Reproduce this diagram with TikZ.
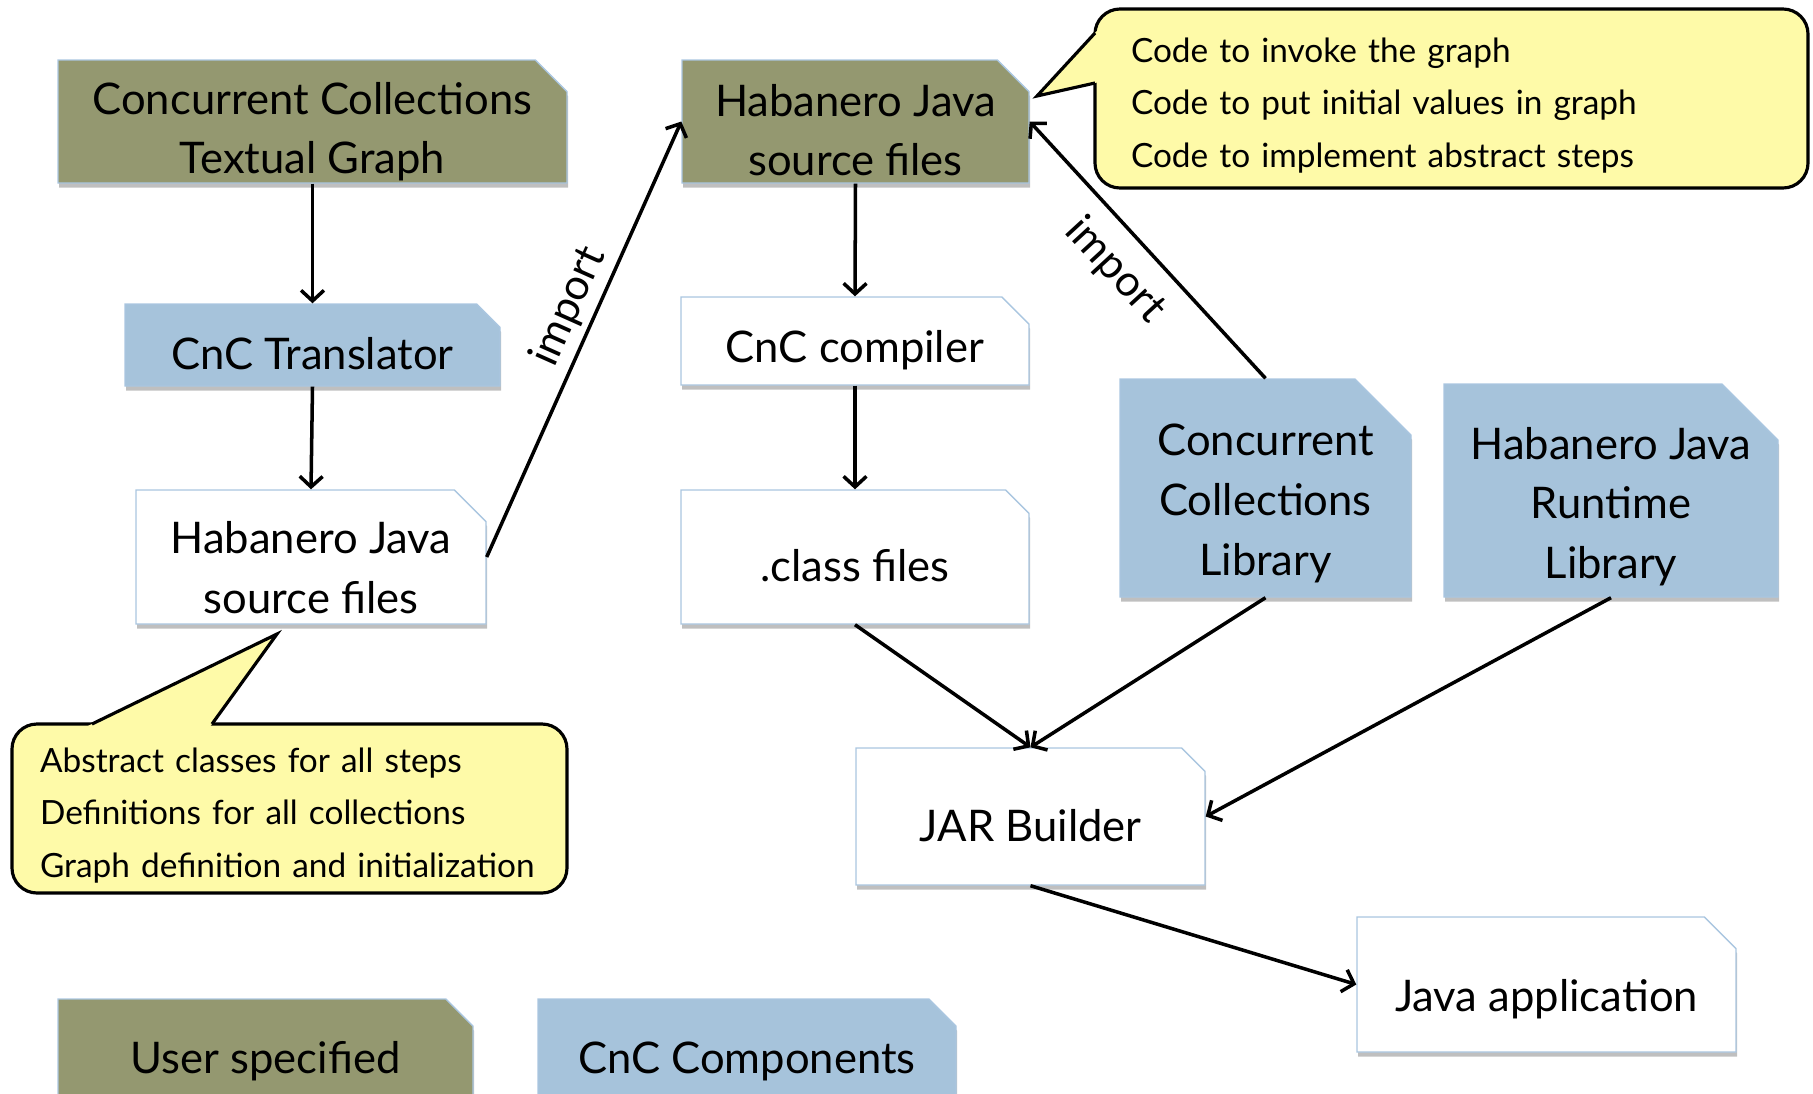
\documentclass[tikz,border=0pt]{standalone}
\usepackage{fontspec}
\setmainfont{Lato}
\usetikzlibrary{shapes.misc,shadows,arrows.meta,calc}

\definecolor{userolive}{RGB}{148,152,112}
\definecolor{cncblue}{RGB}{166,195,219}
\definecolor{edgeblue}{RGB}{170,198,224}
\definecolor{noteyellow}{RGB}{254,250,168}

\newcommand\textdrop[1]{\rule{0pt}{#1}}

\tikzset{
  boxsize/.style 2 args={minimum width=#1*0.02cm, minimum height=#2*0.02cm},
  lower/.style={execute at begin node={\textdrop{#1}}},
  box/.style={chamfered rectangle, chamfered rectangle corners=north east,
    chamfered rectangle xsep=9pt, chamfered rectangle ysep=9pt,
    draw=edgeblue, line width=0.8pt, inner sep=-10pt, align=center,
    font=\fontsize{24.8}{34}\selectfont, lower=28.5pt,
    drop shadow={shadow xshift=0.6pt, shadow yshift=-2.6pt, opacity=0.5}},
  userbox/.style={box, fill=userolive},
  cncbox/.style={box, fill=cncblue},
  filebox/.style={box, fill=white},
  libbox/.style={cncbox, chamfered rectangle xsep=16pt, chamfered rectangle ysep=16pt, lower=0pt},
  note/.style={draw=black, line width=1.8pt, fill=noteyellow, rounded corners=0.5cm,
    inner sep=0pt, align=left, font=\fontsize{19}{30}\selectfont, lower=22pt},
  flow/.style={line width=2pt, -{Straight Barb[length=6pt,width=13pt]}},
  flowback/.style={line width=2pt, {Straight Barb[length=6pt,width=13pt]}-},
  flowlabel/.style={font=\fontsize{24.5}{28}\selectfont}
}

\begin{document}
\begin{tikzpicture}[x=0.02cm, y=-0.02cm]
\useasboundingbox (0,0) rectangle (1813,1093);

% user specified inputs
\node[userbox, boxsize={509}{123}, lower=0pt] (cctg) at (312.5,121.5) {\textdrop{30pt}Concurrent Collections\\Textual Graph};
\node[userbox, boxsize={347}{123}, lower=0pt] (hjsrc) at (855.5,121.5) {\textdrop{28pt}Habanero Java\\source files};

% left column
\node[cncbox, boxsize={375}{82}] (trans) at (312.5,345) {CnC Translator};
\node[filebox, boxsize={350}{134}, lower=0pt] (hjgen) at (311,557) {\textdrop{30pt}Habanero Java\\source files};

% middle column
\node[filebox, boxsize={348}{88}] (comp) at (855,341) {CnC compiler};
\node[filebox, boxsize={348}{134}] (cls) at (855,557) {.class files};

% libraries
\node[libbox, boxsize={291}{218}] (cclib) at (1265.5,488) {\textdrop{35.5pt}Concurrent\\Collections\\Library};
\node[libbox, boxsize={334}{213}] (hjrt) at (1611,490.5) {\textdrop{36.5pt}Habanero Java\\Runtime\\Library};

% build output
\node[filebox, boxsize={349}{137}] (jar) at (1030.5,816.5) {JAR Builder};
\node[filebox, boxsize={379}{135}, lower=35pt] (japp) at (1546.5,984.5) {Java application};

% legend
\node[userbox, boxsize={415}{106}, lower=19pt] (legu) at (265.5,1052) {User specified};
\node[cncbox, boxsize={418}{106}, lower=19pt] (legc) at (747,1052) {CnC Components};

% callouts
\node[note, boxsize={713}{179}, text width=12.82cm] (noteA) at (1451.5,98.5) {Code to invoke the graph\\Code to put initial values in graph\\Code to implement abstract steps};
\coordinate (tipA) at (1037,96);
\coordinate (baseA1) at (1095,33);
\coordinate (baseA2) at (1095,83);
\fill[noteyellow] ($(tipA)!1.08!(baseA1)$) -- (tipA) -- ($(tipA)!1.08!(baseA2)$) -- cycle;
\draw[line width=1.8pt, line join=miter] (baseA1) -- (tipA) -- (baseA2);

\node[note, boxsize={555}{169}, text width=9.98cm] (noteB) at (289.5,808.5) {Abstract classes for all steps\\Definitions for all collections\\Graph definition and initialization};
\coordinate (tipB) at (277,634);
\coordinate (baseB1) at (92,724);
\coordinate (baseB2) at (212,724);
\fill[noteyellow] ($(tipB)!1.06!(baseB1)$) -- (tipB) -- ($(tipB)!1.08!(baseB2)$) -- cycle;
\draw[line width=1.8pt, line join=miter] (baseB1) -- (tipB) -- (baseB2);

% connectors
\draw[flow] (cctg.south) -- (trans.north);
\draw[flow] (trans.south) -- (hjgen.north);
\draw[flow] (hjgen.east) -- node[flowlabel, sloped, above, pos=0.55] {import} (hjsrc.west);
\draw[flow] (hjsrc.south) -- (comp.north);
\draw[flow] (comp.south) -- (cls.north);
\draw[flowback] (hjsrc.east) -- node[flowlabel, sloped, below=6pt, pos=0.48] {import} (cclib.north);
\draw[flow] (cls.south) -- (jar.north);
\draw[flow] (cclib.south) -- (jar.north);
\draw[flow] (hjrt.south) -- (jar.east);
\draw[flow] (jar.south) -- (japp.west);

\end{tikzpicture}
\end{document}
